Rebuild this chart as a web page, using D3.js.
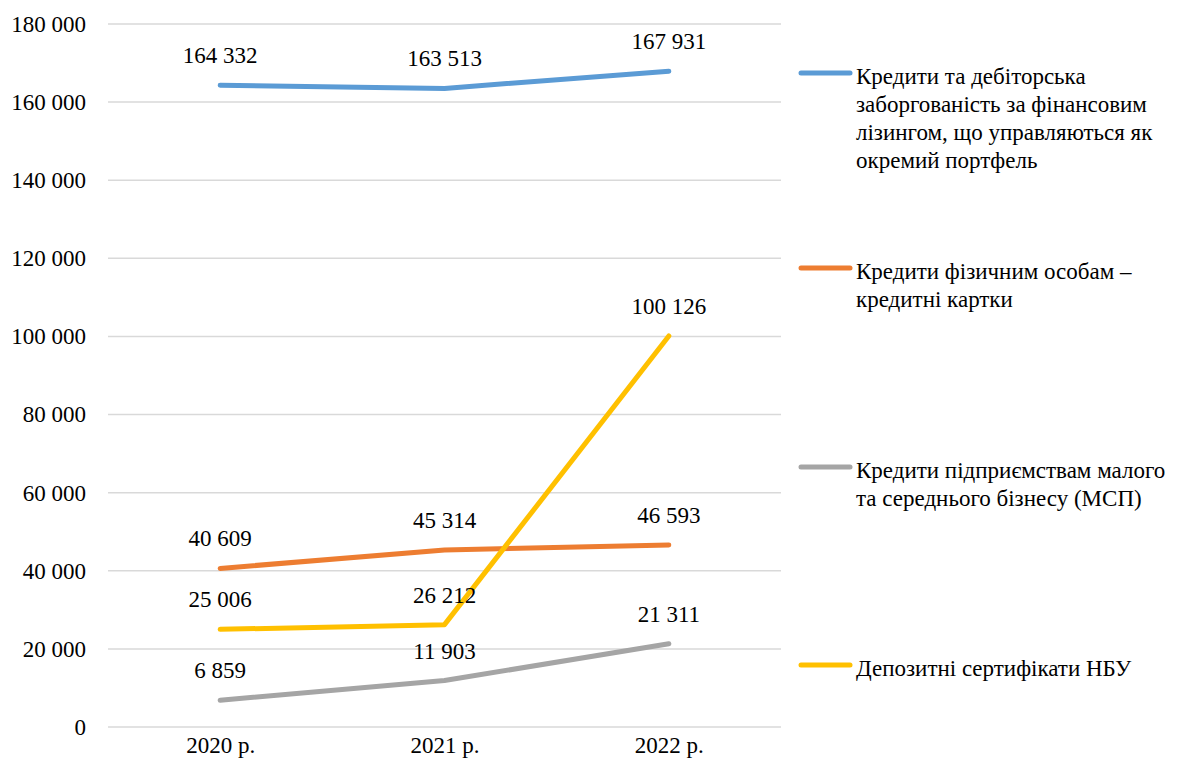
<!DOCTYPE html>
<html>
<head>
<meta charset="utf-8">
<script src="https://cdn.jsdelivr.net/npm/d3@7"></script>
<style>
  html, body { margin: 0; padding: 0; background: #fff; }
  svg { display: block; }
</style>
</head>
<body>
<svg id="chart" width="1182" height="769"></svg>
<script>
const years = ["2020 р.", "2021 р.", "2022 р."];

const seriesNames = [
  "Кредити та дебіторська заборгованість за фінансовим лізингом, що управляються як окремий портфель",
  "Кредити фізичним особам – кредитні картки",
  "Кредити підприємствам малого та середнього бізнесу (МСП)",
  "Депозитні сертифікати НБУ"
];
const legendLines = [
  ["Кредити та дебіторська", "заборгованість за фінансовим", "лізингом, що управляються як", "окремий портфель"],
  ["Кредити фізичним особам –", "кредитні картки"],
  ["Кредити підприємствам малого", "та середнього бізнесу (МСП)"],
  ["Депозитні сертифікати НБУ"]
];

const leasingLoans = [164332, 163513, 167931];
const cardLoans = [40609, 45314, 46593];
const smeLoans = [6859, 11903, 21311];
const nbuCertificates = [25006, 26212, 100126];

const yTicks = [0, 20000, 40000, 60000, 80000, 100000, 120000, 140000, 160000, 180000];
const colors = ["#5B9BD5", "#ED7D31", "#A5A5A5", "#FFC000"];

const series = [leasingLoans, cardLoans, smeLoans, nbuCertificates].map((values, i) => ({
  name: seriesNames[i], values, color: colors[i], legend: legendLines[i]
}));

const fmt = v => d3.format(",")(v).replace(/,/g, " ");
const FONT = "\"Times New Roman\", \"Liberation Serif\", Tinos, serif";

// serif text styling applied to every label
function serif(sel) {
  sel.style("font-family", FONT, "important")
     .style("font-size", "23px", "important")
     .attr("fill", "#000");
  return sel;
}

const svg = d3.select("#chart");
const plotLeft = 108, plotRight = 781, plotTop = 24, plotBottom = 727;

const x = d3.scalePoint().domain(years).range([plotLeft, plotRight]).padding(0.5);
const y = d3.scaleLinear().domain([0, 180000]).range([plotBottom, plotTop]);

// horizontal gridlines
svg.append("g")
  .selectAll("line")
  .data(yTicks)
  .join("line")
  .attr("x1", plotLeft).attr("x2", plotRight)
  .attr("y1", d => y(d)).attr("y2", d => y(d))
  .attr("stroke", "#d9d9d9")
  .attr("stroke-width", 1.5);

// y axis labels
const yAxis = svg.append("g")
  .attr("transform", `translate(${plotLeft - 22},0)`)
  .call(d3.axisLeft(y).tickValues(yTicks).tickFormat(fmt).tickSize(0).tickPadding(0));
yAxis.attr("font-family", null).attr("font-size", null);
yAxis.select(".domain").remove();
serif(yAxis.selectAll("text"));

// x axis labels
const xAxis = svg.append("g")
  .attr("transform", `translate(0,${plotBottom + 8})`)
  .call(d3.axisBottom(x).tickSize(0).tickPadding(0));
xAxis.attr("font-family", null).attr("font-size", null);
xAxis.select(".domain").remove();
serif(xAxis.selectAll("text")).attr("dy", "0.8em");

// lines
const line = d3.line().x((d, i) => x(years[i])).y(d => y(d));

svg.append("g")
  .selectAll("path")
  .data(series)
  .join("path")
  .attr("d", s => line(s.values))
  .attr("fill", "none")
  .attr("stroke", s => s.color)
  .attr("stroke-width", 5)
  .attr("stroke-linecap", "round")
  .attr("stroke-linejoin", "round");

// value labels above each point
serif(svg.append("g")
  .selectAll("g")
  .data(series)
  .join("g")
  .selectAll("text")
  .data(s => s.values.map((v, i) => ({ v, year: years[i] })))
  .join("text")
  .attr("x", d => x(d.year))
  .attr("y", d => y(d.v) - 22)
  .attr("text-anchor", "middle")
  .text(d => fmt(d.v)));

// legend
const legendY = [73, 268, 467, 665];
const legend = svg.append("g")
  .selectAll("g")
  .data(series)
  .join("g")
  .attr("transform", (s, i) => `translate(0,${legendY[i]})`);

legend.append("line")
  .attr("x1", 801).attr("x2", 850)
  .attr("y1", 0).attr("y2", 0)
  .attr("stroke", s => s.color)
  .attr("stroke-width", 5)
  .attr("stroke-linecap", "round");

const legendText = serif(legend.append("text").attr("x", 856).attr("y", 0));
serif(legendText.selectAll("tspan")
  .data(s => s.legend)
  .join("tspan")
  .attr("x", 856)
  .attr("y", (d, i) => 11 + i * 28)
  .text(d => d));
</script>
</body>
</html>
